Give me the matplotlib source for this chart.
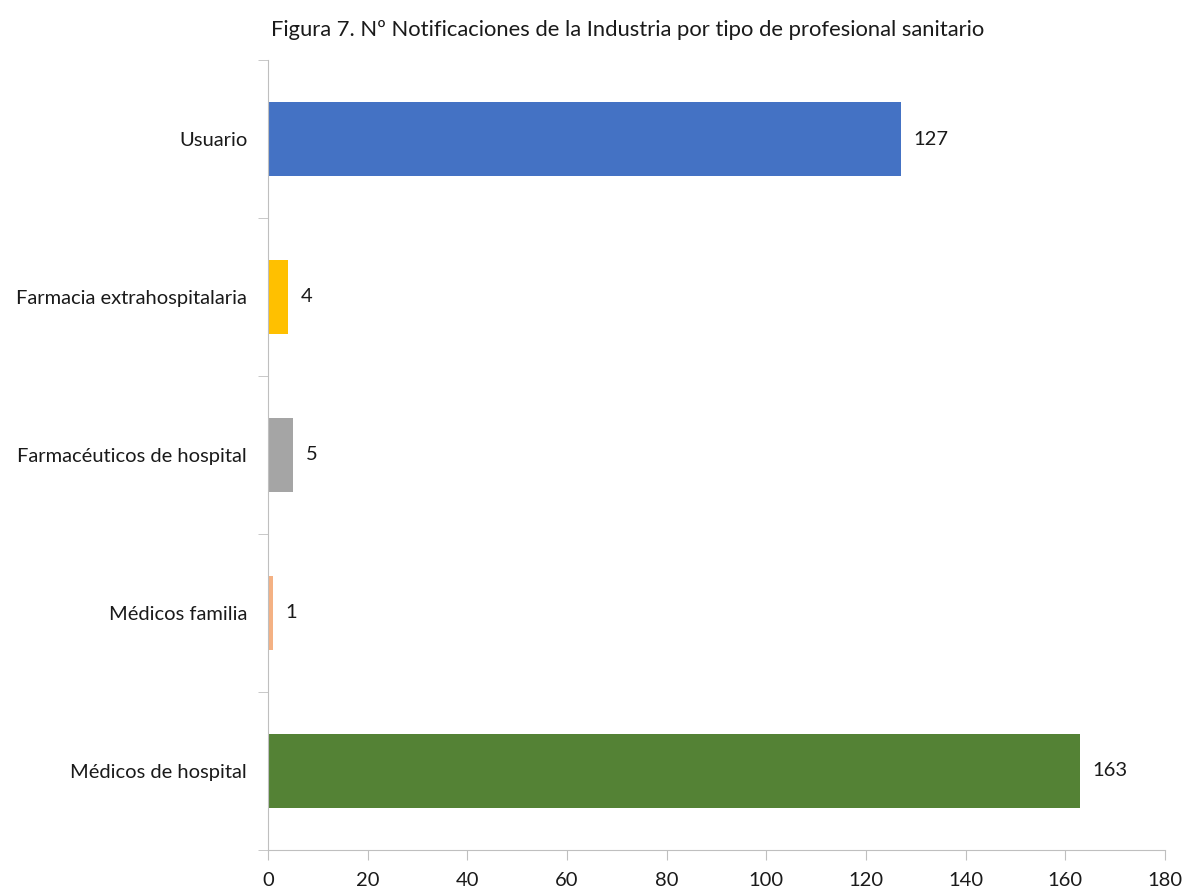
import matplotlib.pyplot as plt

plt.rcParams['font.family'] = ['Lato', 'DejaVu Sans']

categorias = ['Médicos de hospital', 'Médicos familia', 'Farmacéuticos de hospital',
              'Farmacia extrahospitalaria', 'Usuario']
valores = [163, 1, 5, 4, 127]
colores = ['#548235', '#F4B183', '#A5A5A5', '#FFC000', '#4472C4']

fig = plt.figure(figsize=(11.85, 8.89), dpi=100)
ax = fig.add_axes([0.2262, 0.0439, 0.7569, 0.8886])

pos = range(len(categorias))
ax.barh(pos, valores, height=0.47, color=colores)
for p, v in zip(pos, valores):
    ax.text(v + 2.5, p, str(v), va='center', ha='left', fontsize=14.5, color='#1a1a1a')

ax.set_xlim(0, 180)
ax.set_ylim(-0.5, len(categorias) - 0.5)
ax.set_xticks(range(0, 181, 20))
ax.set_yticks(list(pos))
ax.set_yticklabels(categorias)
ax.set_yticks([i - 0.5 for i in range(len(categorias) + 1)], minor=True)

ax.tick_params(axis='y', which='major', length=0, pad=15, labelsize=14.5, labelcolor='#1a1a1a')
ax.tick_params(axis='y', which='minor', length=7, color='#BFBFBF', direction='out')
ax.tick_params(axis='x', length=7, color='#BFBFBF', labelsize=14.5, labelcolor='#1a1a1a', pad=9)

for s in ['top', 'right']:
    ax.spines[s].set_visible(False)
for s in ['left', 'bottom']:
    ax.spines[s].set_color('#BFBFBF')

fig.text(0.53, 0.966, 'Figura 7. Nº Notificaciones de la Industria por tipo de profesional sanitario',
         ha='center', va='center', fontsize=15.8, color='#1a1a1a')

fig.savefig('out.png', dpi=100)
